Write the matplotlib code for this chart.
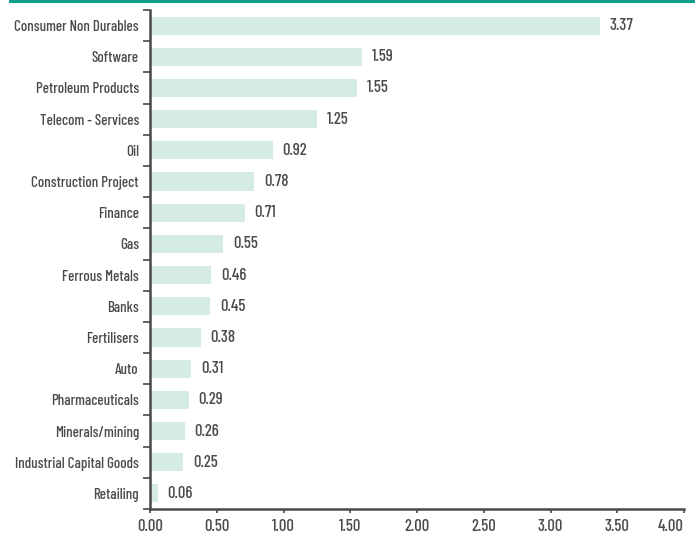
import matplotlib
matplotlib.use("Agg")
import matplotlib.pyplot as plt
from matplotlib.lines import Line2D

sectors = ["Consumer Non Durables", "Software", "Petroleum Products", "Telecom - Services",
           "Oil", "Construction Project", "Finance", "Gas", "Ferrous Metals", "Banks",
           "Fertilisers", "Auto", "Pharmaceuticals", "Minerals/mining",
           "Industrial Capital Goods", "Retailing"]
values = [3.37, 1.59, 1.55, 1.25, 0.92, 0.78, 0.71, 0.55, 0.46, 0.45,
          0.38, 0.31, 0.29, 0.26, 0.25, 0.06]
xticks = [0, 0.5, 1.0, 1.5, 2.0, 2.5, 3.0, 3.5, 4.0]

plt.rcParams['font.family'] = ['Barlow Condensed', 'DejaVu Sans']
plt.rcParams['font.weight'] = 'medium'
text_col = "#4a4a4a"
axis_col = "#4d4846"
fs = 12

fig = plt.figure(figsize=(6.95, 5.36), dpi=100)
ax = fig.add_axes([150 / 695, 1 - 509 / 536, 534 / 695, 499 / 536])

ypos = list(range(len(sectors)))
ax.barh(ypos, values, height=0.58, color="#d5ebe5")
for y, v in zip(ypos, values):
    ax.annotate(f"{v:.2f}", (v, y), xytext=(7, 0), textcoords="offset points",
                va="center", ha="left", fontsize=fs, color=text_col)

ax.set_ylim(len(sectors) - 0.5, -0.5)
ax.set_xlim(0, 4)
ax.set_yticks(ypos)
ax.set_yticklabels(sectors, fontsize=10.8, color=text_col)
ax.set_yticks([i - 0.5 for i in range(len(sectors) + 1)], minor=True)
ax.tick_params(axis="y", which="major", length=0, pad=8)
ax.tick_params(axis="y", which="minor", length=5, width=1.2, color=axis_col)
ax.set_xticks(xticks)
ax.set_xticklabels([f"{t:.2f}" for t in xticks], fontsize=fs, color=text_col)
ax.get_xticklabels()[-1].set_horizontalalignment("right")
ax.tick_params(axis="x", length=3, width=1.2, color=axis_col, pad=4)

for s in ["top", "right"]:
    ax.spines[s].set_visible(False)
for s in ["left", "bottom"]:
    ax.spines[s].set_color(axis_col)
    ax.spines[s].set_linewidth(1.8)

fig.add_artist(Line2D([10 / 695, 1], [1 - 1 / 536, 1 - 1 / 536],
                      transform=fig.transFigure, color="#0fa08a", linewidth=2.2))

fig.savefig("out.png", dpi=100)
